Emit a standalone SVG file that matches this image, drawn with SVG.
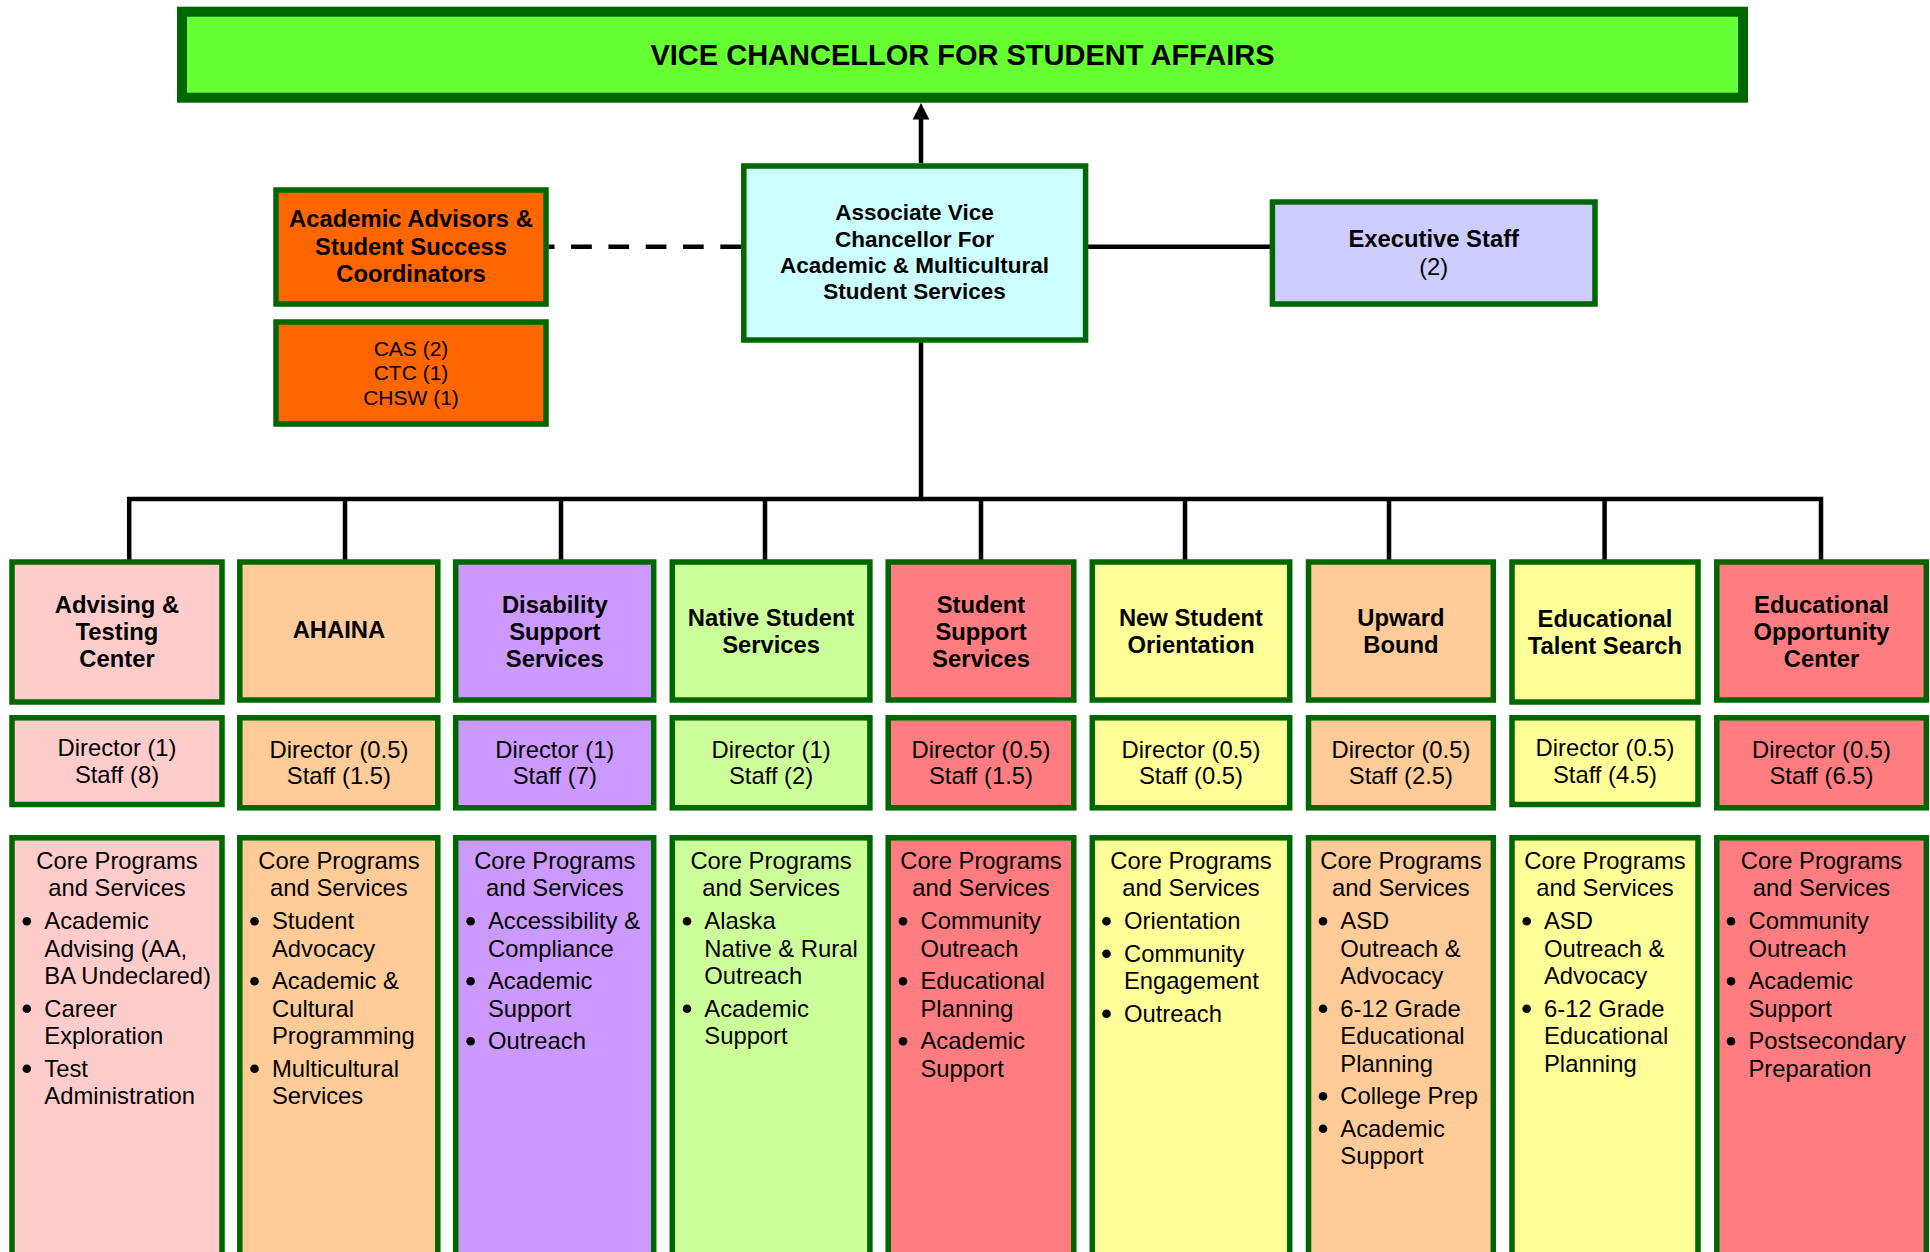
<svg xmlns="http://www.w3.org/2000/svg" width="1930" height="1252" viewBox="0 0 1930 1252">
<defs>
<style>
.box{stroke:#006600;stroke-width:5.5}
.title{stroke:#006600;stroke-width:10}
text{font-family:"Liberation Sans",Arial,sans-serif;fill:#000;text-anchor:middle}
.b{font-weight:bold;font-size:23.8px}
.r{font-size:23.8px}
.avc{font-weight:bold;font-size:22.5px}
.cas{font-size:21px}
.li{text-anchor:start;font-size:23.8px}
.conn{stroke:#000;stroke-width:4.5;fill:none}
.bul{fill:#000}
</style>
</defs>
<rect width="1930" height="1252" fill="#fff"/>

<g id="connectors">
<path class="conn" d="M921,163 V118"/>
<path d="M912.7,119.5 L921,103 L929.3,119.5 Z" fill="#000"/>
<path class="conn" d="M1088,246.7 H1270"/>
<path class="conn" d="M741,246.7 H548.6" stroke-dasharray="20.7 16.6"/>
<path class="conn" d="M921,342 V499"/>
<path class="conn" d="M129.2,560 V499 H1821 V560" stroke-linejoin="miter"/>
<path class="conn" d="M345,499 V560 M561,499 V560 M765,499 V560 M981,499 V560 M1185,499 V560 M1389,499 V560 M1604.6,499 V560"/>
</g>

<g id="vc">
<rect class="title" x="182" y="11.7" width="1561" height="86" fill="#66ff33"/>
<text x="962.5" y="64.5" style="font-weight:bold;font-size:29px">VICE CHANCELLOR FOR STUDENT AFFAIRS</text>
</g>

<g id="advisors">
<rect class="box" x="276" y="190" width="270" height="114" fill="#ff6600"/>
<text class="b" x="411" y="227.3">Academic Advisors &amp;</text>
<text class="b" x="411" y="254.8">Student Success</text>
<text class="b" x="411" y="282.3">Coordinators</text>
</g>
<g id="advisors-count">
<rect class="box" x="276" y="322" width="270" height="102" fill="#ff6600"/>
<text class="cas" x="411" y="355.5">CAS (2)</text>
<text class="cas" x="411" y="380">CTC (1)</text>
<text class="cas" x="411" y="404.8">CHSW (1)</text>
</g>

<g id="avc">
<rect class="box" x="743.8" y="166" width="341.8" height="174" fill="#ccffff"/>
<text class="avc" x="914.5" y="220.3">Associate Vice</text>
<text class="avc" x="914.5" y="247">Chancellor For</text>
<text class="avc" x="914.5" y="273">Academic &amp; Multicultural</text>
<text class="avc" x="914.5" y="298.7">Student Services</text>
</g>

<g id="exec">
<rect class="box" x="1272.4" y="202" width="322.6" height="102" fill="#ccccff"/>
<text class="b" x="1433.7" y="246.8">Executive Staff</text>
<text class="r" x="1433.7" y="275">(2)</text>
</g>

<!-- Column 1 -->
<g id="advising">
<rect class="box" x="12" y="562" width="210" height="140" fill="#ffcccc"/>
<text class="b" x="117" y="612.5">Advising &amp;</text>
<text class="b" x="117" y="639.5">Testing</text>
<text class="b" x="117" y="667">Center</text>
</g>
<g id="advising-staff">
<rect class="box" x="12" y="717.8" width="210" height="86.7" fill="#ffcccc"/>
<text class="r" x="117" y="755.8">Director (1)</text>
<text class="r" x="117" y="782.5">Staff (8)</text>
</g>
<g id="advising-core">
<rect class="box" x="12" y="837.8" width="210" height="430" fill="#ffcccc"/>
<text class="r" x="117" y="869.2">Core Programs</text>
<text class="r" x="117" y="895.8">and Services</text>
<circle class="bul" cx="26.8" cy="921.2" r="4.3"/><circle class="bul" cx="26.8" cy="1008.7" r="4.3"/><circle class="bul" cx="26.8" cy="1068.7" r="4.3"/>
<text class="li" x="44.3" y="929.2">Academic</text>
<text class="li" x="44.3" y="956.7">Advising (AA,</text>
<text class="li" x="44.3" y="984.2">BA Undeclared)</text>
<text class="li" x="44.3" y="1016.7">Career</text>
<text class="li" x="44.3" y="1044.2">Exploration</text>
<text class="li" x="44.3" y="1076.7">Test</text>
<text class="li" x="44.3" y="1104.2">Administration</text>
</g>

<!-- Column 2 -->
<g id="ahaina">
<rect class="box" x="239.8" y="562" width="198" height="138" fill="#ffcc99"/>
<text class="b" x="338.9" y="638.2">AHAINA</text>
</g>
<g id="ahaina-staff">
<rect class="box" x="239.8" y="717.8" width="198" height="90" fill="#ffcc99"/>
<text class="r" x="338.9" y="757.5">Director (0.5)</text>
<text class="r" x="338.9" y="784.2">Staff (1.5)</text>
</g>
<g id="ahaina-core">
<rect class="box" x="239.8" y="837.8" width="198" height="430" fill="#ffcc99"/>
<text class="r" x="338.9" y="869.2">Core Programs</text>
<text class="r" x="338.9" y="895.8">and Services</text>
<circle class="bul" cx="254.5" cy="921.2" r="4.3"/><circle class="bul" cx="254.5" cy="981.2" r="4.3"/><circle class="bul" cx="254.5" cy="1068.7" r="4.3"/>
<text class="li" x="272" y="929.2">Student</text>
<text class="li" x="272" y="956.7">Advocacy</text>
<text class="li" x="272" y="989.2">Academic &amp;</text>
<text class="li" x="272" y="1016.7">Cultural</text>
<text class="li" x="272" y="1044.2">Programming</text>
<text class="li" x="272" y="1076.7">Multicultural</text>
<text class="li" x="272" y="1104.2">Services</text>
</g>

<!-- Column 3 -->
<g id="disability">
<rect class="box" x="455.7" y="562" width="198" height="138" fill="#cc99ff"/>
<text class="b" x="554.8" y="612.5">Disability</text>
<text class="b" x="554.8" y="639.5">Support</text>
<text class="b" x="554.8" y="667">Services</text>
</g>
<g id="disability-staff">
<rect class="box" x="455.7" y="717.8" width="198" height="90" fill="#cc99ff"/>
<text class="r" x="554.8" y="757.5">Director (1)</text>
<text class="r" x="554.8" y="784.2">Staff (7)</text>
</g>
<g id="disability-core">
<rect class="box" x="455.7" y="837.8" width="198" height="430" fill="#cc99ff"/>
<text class="r" x="554.8" y="869.2">Core Programs</text>
<text class="r" x="554.8" y="895.8">and Services</text>
<circle class="bul" cx="470.6" cy="921.2" r="4.3"/><circle class="bul" cx="470.6" cy="981.2" r="4.3"/><circle class="bul" cx="470.6" cy="1041.2" r="4.3"/>
<text class="li" x="488" y="929.2">Accessibility &amp;</text>
<text class="li" x="488" y="956.7">Compliance</text>
<text class="li" x="488" y="989.2">Academic</text>
<text class="li" x="488" y="1016.7">Support</text>
<text class="li" x="488" y="1049.2">Outreach</text>
</g>

<!-- Column 4 -->
<g id="native">
<rect class="box" x="672.3" y="562" width="197.6" height="138" fill="#ccff99"/>
<text class="b" x="771.1" y="625.8">Native Student</text>
<text class="b" x="771.1" y="652.5">Services</text>
</g>
<g id="native-staff">
<rect class="box" x="672.3" y="717.8" width="197.6" height="90" fill="#ccff99"/>
<text class="r" x="771.1" y="757.5">Director (1)</text>
<text class="r" x="771.1" y="784.2">Staff (2)</text>
</g>
<g id="native-core">
<rect class="box" x="672.3" y="837.8" width="197.6" height="430" fill="#ccff99"/>
<text class="r" x="771.1" y="869.2">Core Programs</text>
<text class="r" x="771.1" y="895.8">and Services</text>
<circle class="bul" cx="687" cy="921.2" r="4.3"/><circle class="bul" cx="687" cy="1008.7" r="4.3"/>
<text class="li" x="704.3" y="929.2">Alaska</text>
<text class="li" x="704.3" y="956.7">Native &amp; Rural</text>
<text class="li" x="704.3" y="984.2">Outreach</text>
<text class="li" x="704.3" y="1016.7">Academic</text>
<text class="li" x="704.3" y="1044.2">Support</text>
</g>

<!-- Column 5 -->
<g id="sss">
<rect class="box" x="888.2" y="562" width="185.6" height="138" fill="#ff7c80"/>
<text class="b" x="981" y="612.5">Student</text>
<text class="b" x="981" y="639.5">Support</text>
<text class="b" x="981" y="667">Services</text>
</g>
<g id="sss-staff">
<rect class="box" x="888.2" y="717.8" width="185.6" height="90" fill="#ff7c80"/>
<text class="r" x="981" y="757.5">Director (0.5)</text>
<text class="r" x="981" y="784.2">Staff (1.5)</text>
</g>
<g id="sss-core">
<rect class="box" x="888.2" y="837.8" width="185.6" height="430" fill="#ff7c80"/>
<text class="r" x="981" y="869.2">Core Programs</text>
<text class="r" x="981" y="895.8">and Services</text>
<circle class="bul" cx="903" cy="921.2" r="4.3"/><circle class="bul" cx="903" cy="981.2" r="4.3"/><circle class="bul" cx="903" cy="1041.2" r="4.3"/>
<text class="li" x="920.5" y="929.2">Community</text>
<text class="li" x="920.5" y="956.7">Outreach</text>
<text class="li" x="920.5" y="989.2">Educational</text>
<text class="li" x="920.5" y="1016.7">Planning</text>
<text class="li" x="920.5" y="1049.2">Academic</text>
<text class="li" x="920.5" y="1076.7">Support</text>
</g>

<!-- Column 6 -->
<g id="nso">
<rect class="box" x="1092.3" y="562" width="197.4" height="138" fill="#ffff99"/>
<text class="b" x="1191" y="625.8">New Student</text>
<text class="b" x="1191" y="652.5">Orientation</text>
</g>
<g id="nso-staff">
<rect class="box" x="1092.3" y="717.8" width="197.4" height="90" fill="#ffff99"/>
<text class="r" x="1191" y="757.5">Director (0.5)</text>
<text class="r" x="1191" y="784.2">Staff (0.5)</text>
</g>
<g id="nso-core">
<rect class="box" x="1092.3" y="837.8" width="197.4" height="430" fill="#ffff99"/>
<text class="r" x="1191" y="869.2">Core Programs</text>
<text class="r" x="1191" y="895.8">and Services</text>
<circle class="bul" cx="1106.5" cy="921.2" r="4.3"/><circle class="bul" cx="1106.5" cy="953.7" r="4.3"/><circle class="bul" cx="1106.5" cy="1013.7" r="4.3"/>
<text class="li" x="1124" y="929.2">Orientation</text>
<text class="li" x="1124" y="961.7">Community</text>
<text class="li" x="1124" y="989.2">Engagement</text>
<text class="li" x="1124" y="1021.7">Outreach</text>
</g>

<!-- Column 7 -->
<g id="upward">
<rect class="box" x="1308.5" y="562" width="184.8" height="138" fill="#ffcc99"/>
<text class="b" x="1400.9" y="625.8">Upward</text>
<text class="b" x="1400.9" y="652.5">Bound</text>
</g>
<g id="upward-staff">
<rect class="box" x="1308.5" y="717.8" width="184.8" height="90" fill="#ffcc99"/>
<text class="r" x="1400.9" y="757.5">Director (0.5)</text>
<text class="r" x="1400.9" y="784.2">Staff (2.5)</text>
</g>
<g id="upward-core">
<rect class="box" x="1308.5" y="837.8" width="184.8" height="430" fill="#ffcc99"/>
<text class="r" x="1400.9" y="869.2">Core Programs</text>
<text class="r" x="1400.9" y="895.8">and Services</text>
<circle class="bul" cx="1323" cy="921.2" r="4.3"/><circle class="bul" cx="1323" cy="1008.7" r="4.3"/><circle class="bul" cx="1323" cy="1096.2" r="4.3"/><circle class="bul" cx="1323" cy="1128.7" r="4.3"/>
<text class="li" x="1340.3" y="929.2">ASD</text>
<text class="li" x="1340.3" y="956.7">Outreach &amp;</text>
<text class="li" x="1340.3" y="984.2">Advocacy</text>
<text class="li" x="1340.3" y="1016.7">6-12 Grade</text>
<text class="li" x="1340.3" y="1044.2">Educational</text>
<text class="li" x="1340.3" y="1071.7">Planning</text>
<text class="li" x="1340.3" y="1104.2">College Prep</text>
<text class="li" x="1340.3" y="1136.7">Academic</text>
<text class="li" x="1340.3" y="1164.2">Support</text>
</g>

<!-- Column 8 -->
<g id="ets">
<rect class="box" x="1512" y="562" width="186" height="140" fill="#ffff99"/>
<text class="b" x="1605" y="626.5">Educational</text>
<text class="b" x="1605" y="653.5">Talent Search</text>
</g>
<g id="ets-staff">
<rect class="box" x="1512" y="717.8" width="186" height="86.7" fill="#ffff99"/>
<text class="r" x="1605" y="755.8">Director (0.5)</text>
<text class="r" x="1605" y="782.5">Staff (4.5)</text>
</g>
<g id="ets-core">
<rect class="box" x="1512" y="837.8" width="186" height="430" fill="#ffff99"/>
<text class="r" x="1605" y="869.2">Core Programs</text>
<text class="r" x="1605" y="895.8">and Services</text>
<circle class="bul" cx="1526.7" cy="921.2" r="4.3"/><circle class="bul" cx="1526.7" cy="1008.7" r="4.3"/>
<text class="li" x="1544" y="929.2">ASD</text>
<text class="li" x="1544" y="956.7">Outreach &amp;</text>
<text class="li" x="1544" y="984.2">Advocacy</text>
<text class="li" x="1544" y="1016.7">6-12 Grade</text>
<text class="li" x="1544" y="1044.2">Educational</text>
<text class="li" x="1544" y="1071.7">Planning</text>
</g>

<!-- Column 9 -->
<g id="eoc">
<rect class="box" x="1716.8" y="562" width="209.5" height="138" fill="#ff7c80"/>
<text class="b" x="1821.5" y="612.5">Educational</text>
<text class="b" x="1821.5" y="639.5">Opportunity</text>
<text class="b" x="1821.5" y="667">Center</text>
</g>
<g id="eoc-staff">
<rect class="box" x="1716.8" y="717.8" width="209.5" height="90" fill="#ff7c80"/>
<text class="r" x="1821.5" y="757.5">Director (0.5)</text>
<text class="r" x="1821.5" y="784.2">Staff (6.5)</text>
</g>
<g id="eoc-core">
<rect class="box" x="1716.8" y="837.8" width="209.5" height="430" fill="#ff7c80"/>
<text class="r" x="1821.5" y="869.2">Core Programs</text>
<text class="r" x="1821.5" y="895.8">and Services</text>
<circle class="bul" cx="1731" cy="921.2" r="4.3"/><circle class="bul" cx="1731" cy="981.2" r="4.3"/><circle class="bul" cx="1731" cy="1041.2" r="4.3"/>
<text class="li" x="1748.5" y="929.2">Community</text>
<text class="li" x="1748.5" y="956.7">Outreach</text>
<text class="li" x="1748.5" y="989.2">Academic</text>
<text class="li" x="1748.5" y="1016.7">Support</text>
<text class="li" x="1748.5" y="1049.2">Postsecondary</text>
<text class="li" x="1748.5" y="1076.7">Preparation</text>
</g>
</svg>
